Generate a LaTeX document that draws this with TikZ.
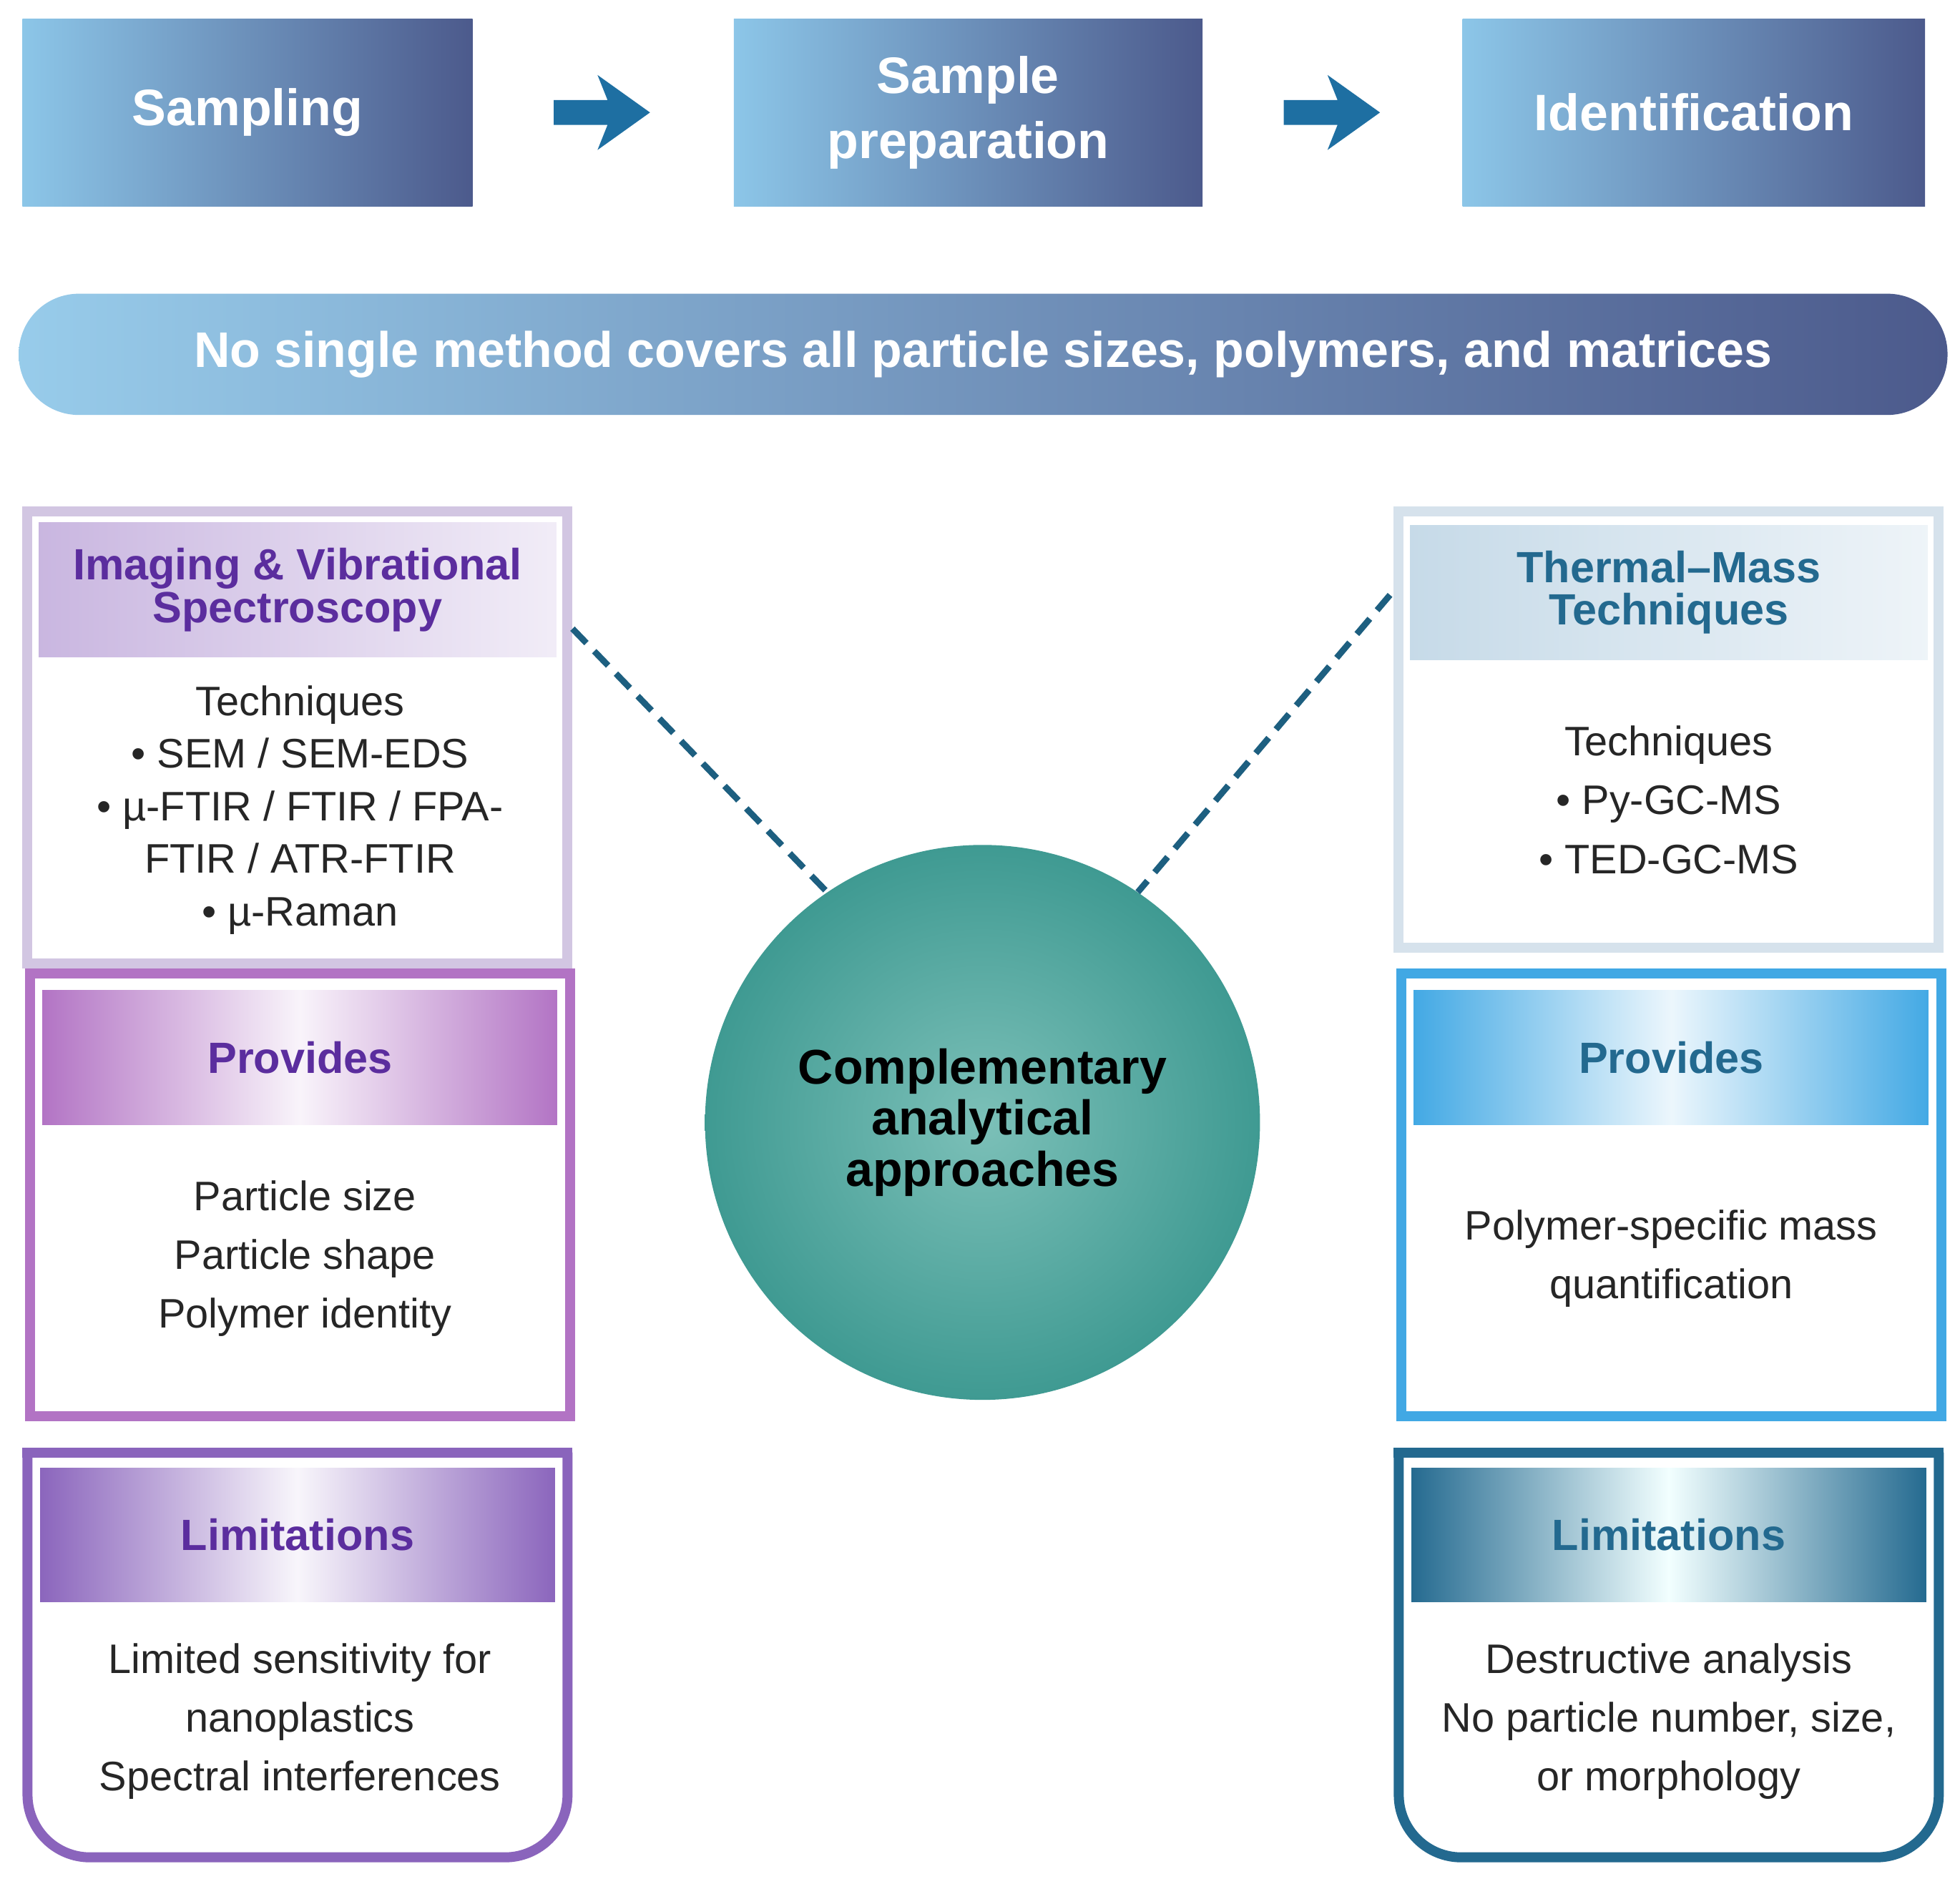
\documentclass[tikz,border=0pt]{standalone}
\usepackage{fontspec}
\setmainfont{Liberation Sans}
\begin{document}
\begin{tikzpicture}[x=1pt,y=-1pt,
  topbox/.style={minimum width=#1,minimum height=150,inner sep=0,left color=tl,right color=tr,text=white,font=\fontsize{41}{48}\selectfont\bfseries,align=center},
  body/.style={align=center,text=black!85,inner sep=0},
  hdr/.style={font=\fontsize{35}{38}\selectfont\bfseries,align=center,inner sep=0},
  dashlink/.style={draw=dl,line width=5,dash pattern=on 16pt off 9pt},
  arr/.style={fill=ar,draw=none}]
\definecolor{tl}{HTML}{8CC6E8}\definecolor{tr}{HTML}{4C5A8C}
\definecolor{ar}{HTML}{1E6FA2}\definecolor{dl}{HTML}{1D5F80}
\definecolor{pt}{HTML}{5B2D9E}\definecolor{bt}{HTML}{23698F}
\definecolor{lav}{HTML}{C9B6E0}\definecolor{lavb}{HTML}{D2C6E2}
\definecolor{mag}{HTML}{B273C4}\definecolor{pur}{HTML}{8A64BC}
\definecolor{gb}{HTML}{C6DAE8}\definecolor{gbb}{HTML}{D6E2EC}
\definecolor{sky}{HTML}{41A8E4}
\definecolor{tin}{HTML}{7CC0B8}\definecolor{tout}{HTML}{3F9A92}
\useasboundingbox (0,0) rectangle (1568,1503);
\fill[white] (0,0) rectangle (1568,1503);
% top row
\node[topbox=360] (samp) at (198,90) {Sampling};
\node[topbox=375] (prep) at (774.5,90) {Sample\\[4pt]preparation};
\node[topbox=370] (iden) at (1355,90) {Identification};
\fill[arr] (443,80) -- (486,80) -- (478,60) -- (520,90) -- (478,120) -- (486,100) -- (443,100) -- cycle;
\fill[arr] (1027,80) -- (1070,80) -- (1062,60) -- (1104,90) -- (1062,120) -- (1070,100) -- (1027,100) -- cycle;
% banner
\node[rounded corners=48,minimum width=1543,minimum height=97,inner sep=0,left color=tl!90,right color=tr,text=white,font=\fontsize{40}{44}\selectfont\bfseries] (ban) at (786.5,283.5) {No single method covers all particle sizes, polymers, and matrices};
% ---- left column
\draw[draw=lavb,line width=8] (22,409) rectangle (454,771);
\node[minimum width=418,minimum height=112,inner sep=0,left color=lav,right color=lav!25!white,draw=white,line width=4] (lh) at (238,472) {};
\node[hdr,text=pt] (lht) at (lh) {Imaging \& Vibrational\\[-4pt]Spectroscopy};
\node[body,font=\fontsize{33}{42}\selectfont] (lt) at (240,648) {Techniques\\• SEM / SEM-EDS\\• µ-FTIR / FTIR / FPA-\\FTIR / ATR-FTIR\\• µ-Raman};
\draw[draw=mag,line width=8] (24,779) rectangle (456,1133);
\node[minimum width=416,minimum height=112,inner sep=0,left color=mag,right color=mag,middle color=mag!8!white,draw=white,line width=4] (lp) at (240,846) {};
\node[hdr,text=pt] (lpt) at (lp) {Provides};
\node[body,font=\fontsize{33}{47}\selectfont] (lpb) at (244,1007) {Particle size\\Particle shape\\Polymer identity};
\draw[draw=pur,line width=8,rounded corners=50] (22,1162) -- (22,1486) -- (454,1486) -- (454,1162);
\draw[draw=pur,line width=8] (18,1162) -- (458,1162);
\node[minimum width=416,minimum height=112,inner sep=0,left color=pur,right color=pur,middle color=pur!6!white,draw=white,line width=4] (ll) at (238,1228) {};
\node[hdr,text=pt] (llt) at (ll) {Limitations};
\node[body,font=\fontsize{33}{47}\selectfont] (llb) at (240,1377) {Limited sensitivity for\\nanoplastics\\Spectral interferences};
% ---- right column
\draw[draw=gbb,line width=8] (1119,409) rectangle (1551,758);
\node[minimum width=418,minimum height=112,inner sep=0,left color=gb,right color=gb!30!white,draw=white,line width=4] (rh) at (1335,474) {};
\node[hdr,text=bt] (rht) at (rh) {Thermal–Mass\\[-4pt]Techniques};
\node[body,font=\fontsize{33}{47}\selectfont] (rt) at (1335,640) {Techniques\\• Py-GC-MS\\• TED-GC-MS};
\draw[draw=sky,line width=8] (1121,779) rectangle (1553,1133);
\node[minimum width=416,minimum height=112,inner sep=0,left color=sky,right color=sky,middle color=sky!10!white,draw=white,line width=4] (rp) at (1337,846) {};
\node[hdr,text=bt] (rpt) at (rp) {Provides};
\node[body,font=\fontsize{33}{47}\selectfont] (rpb) at (1337,1007) {Polymer-specific mass\\quantification};
\draw[draw=bt,line width=8,rounded corners=50] (1119,1162) -- (1119,1486) -- (1551,1486) -- (1551,1162);
\draw[draw=bt,line width=8] (1115,1162) -- (1555,1162);
\node[minimum width=416,minimum height=112,inner sep=0,left color=bt,right color=bt,middle color=cyan!5!white,draw=white,line width=4] (rl) at (1335,1228) {};
\node[hdr,text=bt] (rlt) at (rl) {Limitations};
\node[body,font=\fontsize{33}{47}\selectfont] (rlb) at (1335,1377) {Destructive analysis\\No particle number, size,\\or morphology};
% circle
\node[circle,minimum size=444,inner sep=0,inner color=tin,outer color=tout,font=\fontsize{39}{41}\selectfont\bfseries,text=black,align=center] (c) at (786,898) {Complementary\\analytical\\approaches};
\coordinate (la) at (458,503);
\coordinate (ra) at (1112,476);
\draw[dashlink] (la) -- (c.{124});
\draw[dashlink] (ra) -- (c.{56});
\end{tikzpicture}
\end{document}
